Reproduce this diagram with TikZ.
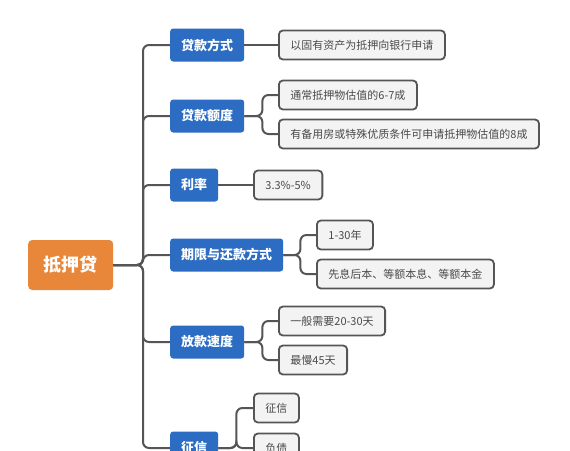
\documentclass[tikz,border=0pt]{standalone}
\usepackage{fontspec}
\setmainfont{Noto Sans CJK SC}
\definecolor{orangeC}{HTML}{E8873A}
\definecolor{blueC}{HTML}{2C6DC3}
\definecolor{grayfill}{HTML}{F3F3F3}
\definecolor{lineC}{HTML}{555555}
\definecolor{txtC}{HTML}{4A4A4A}
\tikzset{
  rootbox/.style={fill=orangeC, rounded corners=4pt, text=white, font=\fontsize{18}{20}\selectfont\bfseries, minimum width=85pt, minimum height=50pt, anchor=west, inner sep=0pt},
  topic/.style={fill=blueC, rounded corners=3pt, text=white, font=\fontsize{13}{15}\selectfont\bfseries, minimum height=33pt, inner xsep=11pt, inner ysep=0pt, anchor=west},
  leaf/.style={fill=grayfill, draw=lineC, line width=1.8pt, rounded corners=4pt, text=txtC, font=\fontsize{11}{13}\selectfont, minimum height=29pt, inner xsep=11.5pt, inner ysep=0pt, anchor=west},
  conn/.style={draw=lineC, line width=2pt, rounded corners=6pt},
}
\begin{document}
\begin{tikzpicture}[x=1pt,y=-1pt]
\useasboundingbox (0,0) rectangle (570,450);
\clip (0,0) rectangle (570,450);
\fill[white] (0,0) rectangle (570,450);
% root
\node[rootbox] (root) at (28,265) {抵押贷};
\coordinate (tr) at (143,265);
% topics
\node[topic] (b1) at (170,45) {贷款方式};
\node[topic] (b2) at (170,116) {贷款额度};
\node[topic] (b3) at (170,185) {利率};
\node[topic] (b4) at (170,255) {期限与还款方式};
\node[topic] (b5) at (170,342) {放款速度};
\node[topic] (b6) at (170,448) {征信};
% leaves
\node[leaf] (c1) at (278,45) {以固有资产为抵押向银行申请};
\node[leaf] (c2a) at (278,95) {通常抵押物估值的6-7成};
\node[leaf] (c2b) at (278,134) {有备用房或特殊优质条件可申请抵押物估值的8成};
\node[leaf] (c3) at (253,185) {3.3\%-5\%};
\node[leaf] (c4a) at (316,235) {1-30年};
\node[leaf] (c4b) at (316,274) {先息后本、等额本息、等额本金};
\node[leaf] (c5a) at (278,321) {一般需要20-30天};
\node[leaf] (c5b) at (278,360) {最慢45天};
\node[leaf] (c6a) at (253,408) {征信};
\node[leaf] (c6b) at (253,448) {负债};
% trunk connectors
\foreach \b in {b1,b2,b3,b4,b5,b6}{
  \draw[conn] (root.east) -- (tr) |- (\b.west);
}
% branch connectors
\draw[conn] (b1.east) -- (c1.west);
\draw[conn] (b3.east) -- (c3.west);
\draw[conn] (b2.east) -- ++(18,0) |- (c2a.west);
\draw[conn] (b2.east) -- ++(18,0) |- (c2b.west);
\draw[conn] (b4.east) -- ++(17,0) |- (c4a.west);
\draw[conn] (b4.east) -- ++(17,0) |- (c4b.west);
\draw[conn] (b5.east) -- ++(18,0) |- (c5a.west);
\draw[conn] (b5.east) -- ++(18,0) |- (c5b.west);
\draw[conn] (b6.east) -- ++(18,0) |- (c6a.west);
\draw[conn] (b6.east) -- ++(18,0) |- (c6b.west);
\end{tikzpicture}
\end{document}
